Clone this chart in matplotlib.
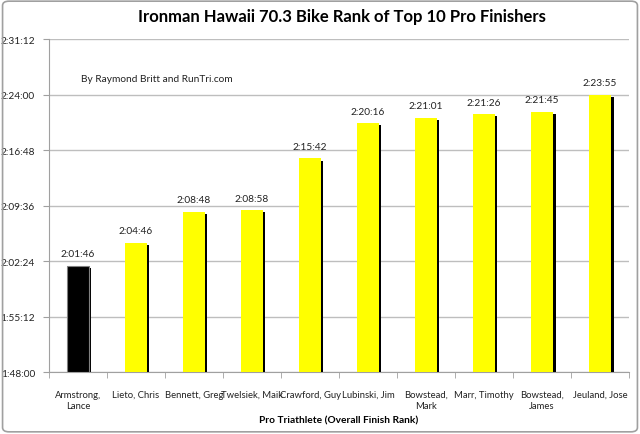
import matplotlib
matplotlib.use("Agg")
import matplotlib.pyplot as plt
import matplotlib.patheffects as pe
from matplotlib.patches import FancyBboxPatch

athletes = ["Armstrong,\nLance", "Lieto, Chris", "Bennett, Greg", "Twelsiek, Maik", "Crawford, Guy",
            "Lubinski, Jim", "Bowstead,\nMark", "Marr, Timothy", "Bowstead,\nJames", "Jeuland, Jose"]
bike_times = ["2:01:46", "2:04:46", "2:08:48", "2:08:58", "2:15:42",
              "2:20:16", "2:21:01", "2:21:26", "2:21:45", "2:23:55"]
ytick_labels = ["1:48:00", "1:55:12", "2:02:24", "2:09:36", "2:16:48", "2:24:00", "2:31:12"]


def to_sec(s):
    h, m, sec = s.split(":")
    return int(h) * 3600 + int(m) * 60 + int(sec)


vals = [to_sec(t) for t in bike_times]
yticks = [to_sec(t) for t in ytick_labels]

plt.rcParams['font.family'] = ['Lato', 'DejaVu Sans']

fig = plt.figure(figsize=(6.4, 4.35), dpi=100)
ax = fig.add_axes([0.0766, 0.1425, 0.9064, 0.7655])

colors = ["black"] + ["#FFFF00"] * (len(vals) - 1)
x = range(len(vals))
bottom = yticks[0]
bars = ax.bar(x, [v - bottom for v in vals], bottom=bottom, width=0.39, color=colors,
              edgecolor=["#808080"] + ["none"] * (len(vals) - 1), linewidth=0.8, zorder=3)
for b in bars:
    b.set_path_effects([pe.SimplePatchShadow(offset=(1.5, -1.5), shadow_rgbFace='black', alpha=1.0), pe.Normal()])

for xi, v, t in zip(x, vals, bike_times):
    ax.text(xi, v + 60, t, ha='center', va='bottom', fontsize=7.3, color='#222222', zorder=4)

ax.set_xlim(-0.5, len(vals) - 0.5)
ax.set_ylim(yticks[0], yticks[-1])
ax.set_yticks(yticks)
ax.set_yticklabels(ytick_labels, fontsize=7.3, color='#222222')
ax.set_xticks(list(x))
ax.set_xticklabels(athletes, fontsize=6.8, color='#222222', linespacing=1.3)
ax.tick_params(axis='x', length=0, pad=13)
ax.set_xticks([i + 0.5 for i in range(-1, len(vals))], minor=True)
ax.tick_params(axis='x', which='minor', length=4, color='#A0A0A0')
ax.tick_params(axis='y', length=4, color='#A0A0A0', pad=6)
ax.grid(axis='y', color='#BEBEBE', linewidth=1, zorder=0)
ax.set_axisbelow(True)
for s in ['top', 'right']:
    ax.spines[s].set_visible(False)
for s in ['left', 'bottom']:
    ax.spines[s].set_color('#A0A0A0')

ax.set_xlabel("Pro Triathlete (Overall Finish Rank)", fontsize=7.3, fontweight='bold', labelpad=4)
fig.text(0.535, 0.96, "Ironman Hawaii 70.3 Bike Rank of Top 10 Pro Finishers", ha='center', va='center',
         fontsize=12, fontweight='bold')
ax.text(0.055, 0.875, "By Raymond Britt and RunTri.com", transform=ax.transAxes, fontsize=7.3, color='#222222')

border = FancyBboxPatch((0.004, 0.005), 0.992, 0.99, boxstyle="round,pad=0,rounding_size=0.01",
                        transform=fig.transFigure, fill=False, edgecolor='#A0A0A0', linewidth=1.2)
fig.patches.append(border)

fig.savefig("out.png", dpi=100)
